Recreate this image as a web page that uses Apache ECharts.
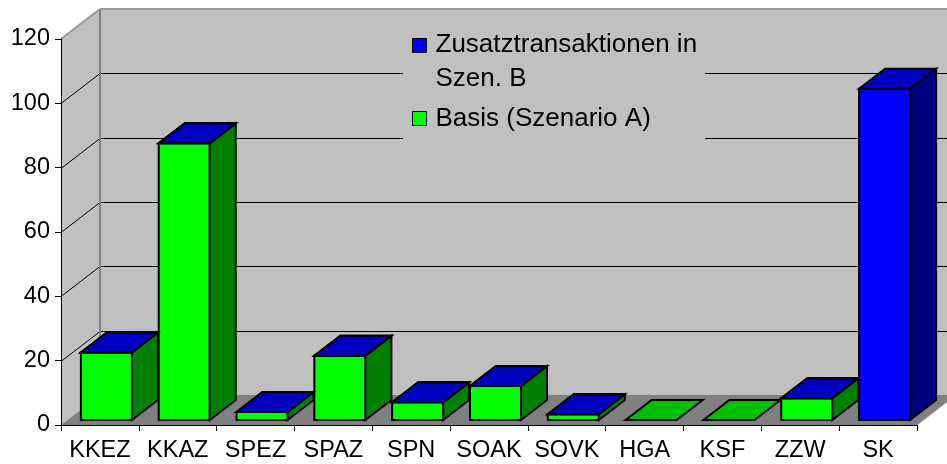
<!DOCTYPE html>
<html>
<head>
<meta charset="utf-8">
<script src="https://cdn.jsdelivr.net/npm/echarts@6/dist/echarts.min.js"></script>
<style>
html,body{margin:0;padding:0;background:#fff;}
#main{width:947px;height:464px;}
</style>
</head>
<body>
<div id="main"></div>
<script>
// Kategorien und Werte
var categories = ['KKEZ','KKAZ','SPEZ','SPAZ','SPN','SOAK','SOVK','HGA','KSF','ZZW','SK'];
var basisValues = [21, 86, 2.5, 20, 5.5, 10.6, 1.8, 0, 0, 6.8, null];
var zusatzValues = [0, 0, 0, 0, 0, 0, 0, null, null, 0, 103];
var yTicks = [0, 20, 40, 60, 80, 100, 120];

var basisName = 'Basis (Szenario A)';
var zusatzName = 'Zusatztransaktionen in Szen. B';
var font = "'Liberation Sans', Arial, sans-serif";

// 3D-Versatz (Pixel)
var wallDx = 39, wallDy = -30;
var barDx = 26, barDy = -20;
var barOx = 6.5, barOy = -5;

function poly(points, fill, stroke, lw) {
	return {
		type: 'polygon',
		shape: {points: points},
		style: {fill: fill, stroke: stroke || null, lineWidth: lw || 0, lineJoin: 'miter'}
	};
}
function line(x1, y1, x2, y2, color, w) {
	return {
		type: 'line',
		shape: {x1: x1, y1: y1, x2: x2, y2: y2},
		style: {stroke: color, lineWidth: w}
	};
}

// Wände, Boden und Gitterlinien hinten
function renderWalls(params, api) {
	var cs = params.coordSys;
	var x0 = cs.x, x1 = cs.x + cs.width;
	var yMax = yTicks[yTicks.length - 1];
	var yT = api.coord([0, yMax])[1], yB = api.coord([0, 0])[1];
	var dx = wallDx, dy = wallDy;
	var c = [];
	c.push(poly([[x0+dx,yT+dy],[x1+dx,yT+dy],[x1+dx,yB+dy],[x0+dx,yB+dy]], '#c0c0c0'));
	c.push(poly([[x0,yT],[x0+dx,yT+dy],[x0+dx,yB+dy],[x0,yB]], '#c0c0c0'));
	c.push(poly([[x0,yB],[x1,yB],[x1+dx,yB+dy],[x0+dx,yB+dy]], '#808080'));
	yTicks.forEach(function(t){
		if (t <= 0 || t >= yMax) return;
		var y = Math.round(api.coord([0, t])[1]) + 0.5;
		c.push(line(x0, y, x0+dx, y+dy, '#000', 1));
		c.push(line(x0+dx, y+dy, x1+dx, y+dy, '#000', 1));
	});
	c.push(line(x0+dx, yT+dy, x0+dx, yB+dy, '#808080', 2));
	c.push(line(x0, yT, x0+dx, yT+dy, '#999999', 2));
	c.push(line(x0+dx, yT+dy, x1+dx, yT+dy, '#999999', 2));
	c.push(line(x1, yB, x1+dx, yB+dy, '#a0a0a0', 1));
	return {type: 'group', children: c};
}

// 3D-Säulen (gestapelt)
function makeBar(bases, front, side, top) {
	return function(params, api) {
		var i = api.value(0);
		var v = api.value(1);
		if (v == null || isNaN(v)) return null;
		var base = bases ? (bases[i] || 0) : 0;
		var p0 = api.coord([i, base]);
		var p1 = api.coord([i, base + v]);
		var half = api.size([1, 0])[0] * 0.328;
		var xl = p0[0] - half + barOx, xr = p0[0] + half + barOx;
		var yb = p0[1] + barOy, yt = p1[1] + barOy;
		var c = [];
		if (yb - yt > 0.5) {
			c.push(poly([[xl,yb],[xr,yb],[xr,yt],[xl,yt]], front, '#000', 2));
			c.push(poly([[xr,yb],[xr+barDx,yb+barDy],[xr+barDx,yt+barDy],[xr,yt]], side, '#000', 2));
		}
		c.push(poly([[xl,yt],[xr,yt],[xr+barDx,yt+barDy],[xl+barDx,yt+barDy]], top, '#000', 2));
		return {type: 'group', children: c};
	};
}

var myChart = echarts.init(document.getElementById('main'));
var option = {
	animation: false,
	backgroundColor: '#fff',
	grid: {left: 61, right: 30, top: 39, bottom: 39},
	legend: {
		data: [
			{name: zusatzName, itemStyle: {color: '#0000ff'}},
			{name: basisName, itemStyle: {color: '#00ff00'}}
		],
		orient: 'vertical',
		left: 403,
		top: 32,
		padding: [0, 8, 8, 9],
		itemGap: 14,
		itemWidth: 14,
		itemHeight: 14,
		icon: 'rect',
		itemStyle: {borderColor: '#000', borderWidth: 1},
		backgroundColor: '#c0c0c0',
		selectedMode: false,
		formatter: function(name){
			if (name === zusatzName) return '{a|Zusatztransaktionen in}\n{b|Szen. B}';
			return '{c|' + name + '}';
		},
		textStyle: {
			color: '#000',
			fontFamily: font,
			fontSize: 26,
			rich: {
				a: {fontFamily: font, fontSize: 26, color: '#000', lineHeight: 66, padding: [0,0,0,4]},
				b: {fontFamily: font, fontSize: 26, color: '#000', lineHeight: 1, padding: [0,0,0,4]},
				c: {fontFamily: font, fontSize: 26, color: '#000', lineHeight: 32, padding: [0,0,0,4]}
			}
		}
	},
	xAxis: {
		type: 'category',
		data: categories,
		boundaryGap: true,
		axisLine: {lineStyle: {color: '#000', width: 1}},
		axisTick: {show: true, length: 6, lineStyle: {color: '#000'}},
		axisLabel: {color: '#000', fontFamily: font, fontSize: 23.5, margin: 14, interval: 0},
		splitLine: {show: false}
	},
	yAxis: {
		type: 'value',
		min: yTicks[0],
		max: yTicks[yTicks.length - 1],
		interval: 20,
		axisLine: {show: true, lineStyle: {color: '#000', width: 1}},
		axisTick: {show: true, length: 6, lineStyle: {color: '#000'}},
		axisLabel: {color: '#000', fontFamily: font, fontSize: 23.5, margin: 11},
		splitLine: {show: false}
	},
	series: [
		{
			name: 'walls',
			type: 'custom',
			z: -1,
			silent: true,
			clip: false,
			renderItem: renderWalls,
			data: [[0, 0]]
		},
		{
			name: basisName,
			type: 'custom',
			clip: false,
			itemStyle: {color: '#00ff00'},
			renderItem: makeBar(null, '#00ff00', '#008000', '#00c000'),
			data: categories.map(function(c, i){ return [i, basisValues[i]]; })
		},
		{
			name: zusatzName,
			type: 'custom',
			clip: false,
			itemStyle: {color: '#0000ff'},
			renderItem: makeBar(basisValues, '#0000ff', '#000080', '#0000c0'),
			data: categories.map(function(c, i){ return [i, zusatzValues[i]]; })
		}
	]
};
myChart.setOption(option);
</script>
</body>
</html>
